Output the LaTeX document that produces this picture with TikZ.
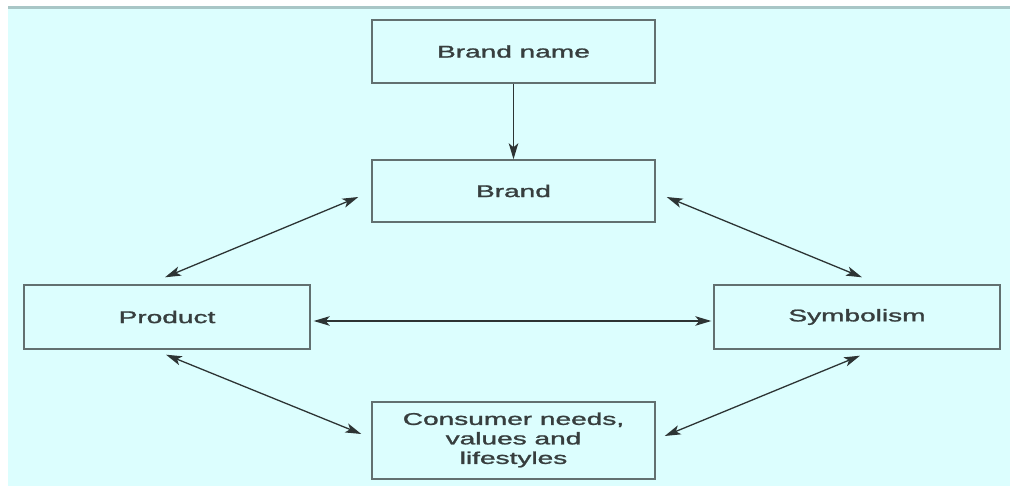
\documentclass[tikz,border=0pt]{standalone}
\usepackage{fontspec}
\setmainfont{Liberation Sans}
\newfontfamily\boxfont[FakeBold=1.2]{Liberation Sans}
\usetikzlibrary{arrows.meta,calc}
\definecolor{bgcyan}{RGB}{220,254,254}
\definecolor{topline}{RGB}{168,198,198}
\definecolor{boxline}{RGB}{98,112,112}
\definecolor{arrowcol}{RGB}{45,52,52}
\definecolor{txtcol}{RGB}{55,62,62}
\newcommand{\wtxt}[1]{\scalebox{1.65}[1]{#1}}
\tikzset{
  x=1pt, y=-1pt,
  >={Stealth[length=16pt,width=9.5pt,inset=4pt]},
  boxnode/.style={draw=boxline, line width=1.4pt, inner sep=0pt, text=txtcol,
    font=\boxfont\fontsize{17}{19.5}\selectfont},
  conn/.style={draw=arrowcol, line width=1.3pt}
}
\begin{document}
\begin{tikzpicture}
\useasboundingbox (0,0) rectangle (1010,486);
\fill[white] (0,0) rectangle (1010,486);
\fill[bgcyan] (8,7) rectangle (1010,486);
\fill[topline] (8,6) rectangle (1010,9);

\node[boxnode, minimum width=283pt, minimum height=63pt] (bname) at (513.5,51.5) {\wtxt{Brand name}};
\node[boxnode, minimum width=283pt, minimum height=62pt] (brand) at (513.5,191) {\wtxt{Brand}};
\node[boxnode, minimum width=286pt, minimum height=64pt] (product) at (167,317) {\wtxt{Product}};
\node[boxnode, minimum width=286pt, minimum height=64pt] (symb) at (857,317) {\wtxt{Symbolism}};
\node[boxnode, minimum width=283pt, minimum height=77pt] (consumer) at (513.5,440.5)
  {\wtxt{\begin{tabular}{@{}c@{}}Consumer needs,\\values and\\lifestyles\end{tabular}}};

\draw[conn, ->] (bname.south) -- (brand.north);
\draw[conn, <->] ($(brand.west)+(-13,6)$) -- ($(product.north)+(-2,-7)$);
\draw[conn, <->] ($(brand.east)+(11,6)$) -- ($(symb.north)+(5,-7)$);
\draw[conn, <->] ($(product.east)+(3,4)$) -- ($(symb.west)+(-2,4)$);
\draw[conn, <->] ($(product.south)+(-1,5)$) -- ($(consumer.west)+(-10,-6.5)$);
\draw[conn, <->] ($(symb.south)+(3,6)$) -- ($(consumer.east)+(9,-4.5)$);
\end{tikzpicture}
\end{document}
